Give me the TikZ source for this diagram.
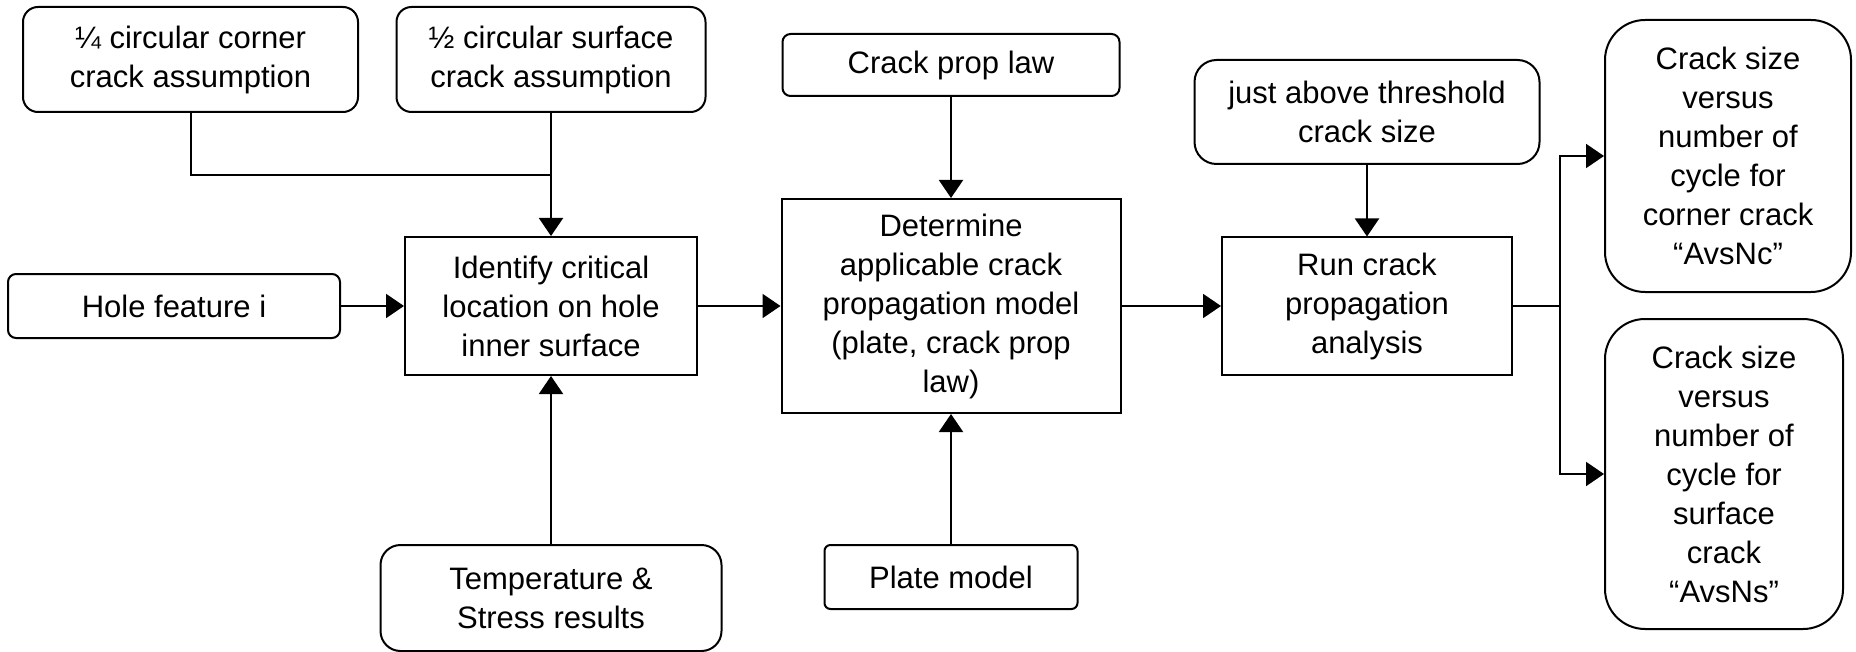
\documentclass[tikz,border=0pt]{standalone}
\usepackage{fontspec}
\setmainfont{Liberation Sans}
\usetikzlibrary{arrows.meta}
\begin{document}
\begin{tikzpicture}[x=0.5pt,y=-0.5pt,
  box/.style={draw, line width=1pt, font=\fontsize{15.5pt}{19.5pt}\selectfont, align=center, inner sep=0pt},
  rbox/.style={box, rounded corners=#1},
  conn/.style={line width=1pt},
  arr/.style={line width=1pt, -{Triangle[length=9pt,width=12pt]}}
]
\useasboundingbox (0,0) rectangle (1856,652);
% inputs and process boxes
\node[rbox=7.5pt, minimum width=167.5pt, minimum height=52.5pt] (A) at (190.5,59.5) {¼ circular corner\\crack assumption};
\node[rbox=7.5pt, minimum width=154.5pt, minimum height=52.5pt] (B) at (551,59.5) {½ circular surface\\crack assumption};
\node[rbox=4pt, minimum width=166pt, minimum height=32pt] (H) at (174,306) {Hole feature i};
\node[box, minimum width=146pt, minimum height=69pt] (C) at (551,306) {Identify critical\\location on hole\\inner surface};
\node[rbox=10pt, minimum width=170.5pt, minimum height=53pt] (T) at (551,598) {Temperature \&\\Stress results};
\node[rbox=4pt, minimum width=168.5pt, minimum height=31pt] (L) at (951,65) {Crack prop law};
\node[box, minimum width=169.5pt, minimum height=107pt] (D) at (951,306) {Determine\\applicable crack\\propagation model\\(plate, crack prop\\law)};
\node[rbox=3pt, minimum width=126.5pt, minimum height=32pt] (P) at (951,577) {Plate model};
\node[rbox=11pt, minimum width=172.5pt, minimum height=52pt] (J) at (1367,112) {just above threshold\\crack size};
\node[box, minimum width=145pt, minimum height=68.5pt] (R) at (1367,306) {Run crack\\propagation\\analysis};
\node[rbox=20pt, minimum width=123pt, minimum height=136pt] (O1) at (1728,156) {Crack size\\versus\\number of\\cycle for\\corner crack\\“AvsNc”};
\node[rbox=20pt, minimum width=119pt, minimum height=155pt] (O2) at (1724,474) {Crack size\\versus\\number of\\cycle for\\surface\\crack\\“AvsNs”};
% connectors
\coordinate (j1) at (551,175);
\draw[conn] (A.south) |- (j1);
\draw[arr] (B.south) -- (C.north);
\draw[arr] (H) -- (C);
\draw[arr] (T.north) -- (C.south);
\draw[arr] (C) -- (D);
\draw[arr] (L.south) -- (D.north);
\draw[arr] (P.north) -- (D.south);
\draw[arr] (D) -- (R);
\draw[arr] (J.south) -- (R.north);
\coordinate (j2) at (1560,306);
\draw[conn] (R.east) -- (j2);
\draw[arr] (j2) |- (O1.west);
\draw[arr] (j2) |- (O2.west);
\end{tikzpicture}
\end{document}
